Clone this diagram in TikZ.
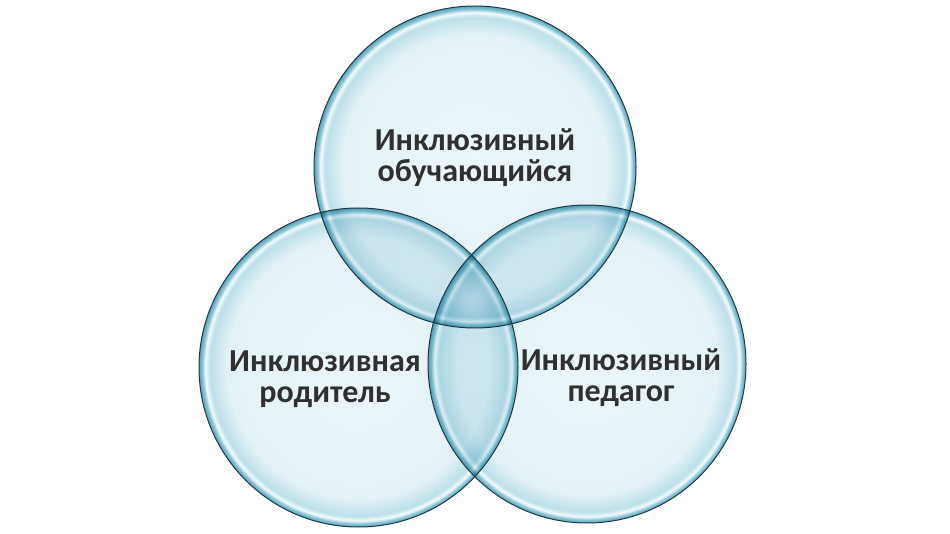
\documentclass[tikz,border=0pt]{standalone}
\usepackage{fontspec}
\setmainfont{Carlito}
\definecolor{gc0}{HTML}{EBF6F9}
\definecolor{gc1}{HTML}{E4F2F6}
\definecolor{gc2}{HTML}{BEE0E9}
\definecolor{gc3}{HTML}{F3FBFC}
\definecolor{gc4}{HTML}{8AC5D4}
\definecolor{gc5}{HTML}{58A3B8}
\definecolor{rimline}{HTML}{1E3A44}
\definecolor{labeltext}{HTML}{303030}
\pgfdeclareradialshading{glassball}{\pgfpoint{0bp}{0bp}}{%
  color(0bp)=(gc0); color(20.5bp)=(gc1); color(23.3bp)=(gc2);
  color(24.0bp)=(gc3); color(24.5bp)=(gc4); color(25bp)=(gc5); color(50bp)=(gc5)}
\tikzset{
  glass/.style={shading=glassball, blend mode=multiply},
  rim/.style={draw=rimline, line width=1pt},
  lbl/.style={font=\bfseries\fontsize{32}{31}\selectfont, text=labeltext, align=center, inner sep=0pt}
}
\begin{document}
\begin{tikzpicture}[x=1pt,y=-1pt]
\fill[white] (0,0) rectangle (950,534);
\useasboundingbox (0,0) rectangle (950,534);
\coordinate (ct) at (475,167);
\coordinate (cl) at (358.5,367.5);
\coordinate (cr) at (587,364);
\shade[glass] (ct) circle[radius=161];
\shade[glass] (cl) circle[radius=159.5];
\shade[glass] (cr) circle[radius=159];
\draw[rim] (ct) circle[radius=161];
\draw[rim] (cl) circle[radius=159.5];
\draw[rim] (cr) circle[radius=159];
\node[lbl] (tt) at (475,158) {Инклюзивный\\обучающийся};
\node[lbl] (tl) at (325,379) {Инклюзивная\\родитель};
\node[lbl] (tr) at (621,378) {Инклюзивный\\педагог};
\end{tikzpicture}
\end{document}
